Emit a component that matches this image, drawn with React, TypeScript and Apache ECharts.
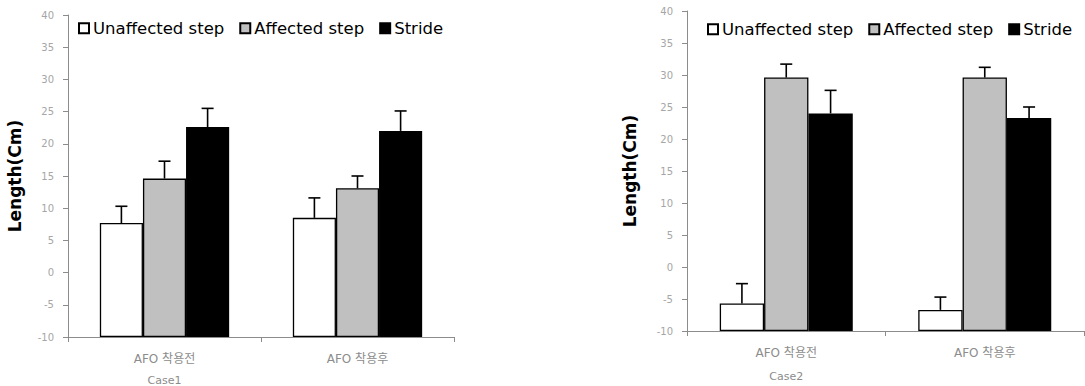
import React, { useEffect, useRef } from "react";
import * as echarts from "echarts";

const categories = ["AFO 착용전", "AFO 착용후"];
const seriesNames = ["Unaffected step", "Affected step", "Stride"];
const seriesColors = ["#ffffff", "#c0c0c0", "#000000"];

// Case1
const case1Unaffected = [7.7, 8.5];
const case1Affected = [14.6, 13.1];
const case1Stride = [22.6, 22.0];
const case1UnaffectedErr = [2.6, 3.1];
const case1AffectedErr = [2.7, 1.9];
const case1StrideErr = [2.9, 3.1];

// Case2
const case2Unaffected = [-5.7, -6.7];
const case2Affected = [29.6, 29.6];
const case2Stride = [24.0, 23.3];
const case2UnaffectedErr = [3.1, 2.0];
const case2AffectedErr = [2.1, 1.6];
const case2StrideErr = [3.6, 1.7];

const yTicks = { min: -10, max: 40, interval: 5 };
const caseNames = ["Case1", "Case2"];

const CATEGORY_GAP = 0.33;
const FONT = "'DejaVu Sans', 'Noto Sans CJK KR', sans-serif";

export default function App() {
  const ref = useRef<HTMLDivElement>(null);

  useEffect(() => {
    document.body.style.margin = "0";
    if (!ref.current) return;
    const chart = echarts.init(ref.current, null, { renderer: "svg" });

    const grids = [
      { left: 68, right: 631, top: 15, bottom: 49, containLabel: false, outerBoundsMode: "none" },
      { left: 687, right: 1, top: 11, bottom: 55, containLabel: false, outerBoundsMode: "none" },
    ];

    const values = [
      [case1Unaffected, case1Affected, case1Stride],
      [case2Unaffected, case2Affected, case2Stride],
    ];
    const errs = [
      [case1UnaffectedErr, case1AffectedErr, case1StrideErr],
      [case2UnaffectedErr, case2AffectedErr, case2StrideErr],
    ];

    const xAxis = grids.map((_, gi) => ({
      type: "category",
      gridIndex: gi,
      data: categories,
      axisLine: { onZero: false, lineStyle: { color: "#8c8c8c", width: 1 } },
      axisTick: { show: true, length: 5, lineStyle: { color: "#8c8c8c" } },
      axisLabel: {
        color: "#8c8c8c",
        fontSize: 12,
        fontFamily: FONT,
        margin: 16,
      },
    }));

    const yAxis = grids.map((_, gi) => ({
      type: "value",
      gridIndex: gi,
      min: yTicks.min,
      max: yTicks.max,
      interval: yTicks.interval,
      startValue: yTicks.min,
      axisLine: { show: true, lineStyle: { color: "#8c8c8c", width: 1 } },
      axisTick: { show: true, length: 5, lineStyle: { color: "#8c8c8c" } },
      splitLine: { show: false },
      axisLabel: { color: "#a6a6a6", fontSize: 10, fontFamily: FONT, margin: 14 },
      name: "Length(Cm)",
      nameLocation: "middle",
      nameRotate: 90,
      nameGap: gi === 0 ? 45 : 49,
      nameTextStyle: {
        color: "#000",
        fontSize: 17,
        fontWeight: "bold",
        fontFamily: FONT,
      },
    }));

    const series: any[] = [];
    for (let gi = 0; gi < 2; gi++) {
      for (let si = 0; si < 3; si++) {
        series.push({
          type: "bar",
          name: seriesNames[si],
          xAxisIndex: gi,
          yAxisIndex: gi,
          data: values[gi][si],
          barGap: "0%",
          barCategoryGap: "33%",
          itemStyle: { color: seriesColors[si], borderColor: "#000", borderWidth: 1.3 },
        });
      }
      const errData: number[][] = [];
      for (let si = 0; si < 3; si++) {
        for (let ci = 0; ci < categories.length; ci++) {
          errData.push([ci, values[gi][si][ci], values[gi][si][ci] + errs[gi][si][ci], si]);
        }
      }
      series.push({
        type: "custom",
        xAxisIndex: gi,
        yAxisIndex: gi,
        data: errData,
        z: 10,
        renderItem: (params: any, api: any) => {
          const ci = api.value(0);
          const v = api.value(1);
          const top = api.value(2);
          const si = api.value(3);
          const catW = api.size([1, 0])[0];
          const bw = (catW * (1 - CATEGORY_GAP)) / 3;
          const p0 = api.coord([ci, v]);
          const p1 = api.coord([ci, top]);
          const x = p0[0] + (si - 1) * bw;
          const cap = 6;
          const style = { stroke: "#000", lineWidth: 1.6 };
          return {
            type: "group",
            children: [
              { type: "line", shape: { x1: x, y1: p0[1], x2: x, y2: p1[1] }, style },
              { type: "line", shape: { x1: x - cap, y1: p1[1], x2: x + cap, y2: p1[1] }, style },
            ],
          };
        },
      });
    }

    const legendCommon = {
      data: seriesNames,
      icon: "rect",
      itemWidth: 10,
      itemHeight: 10,
      itemGap: 15,
      textStyle: { color: "#000", fontSize: 16.5, fontFamily: FONT, padding: [0, 0, 0, -1] },
      selectedMode: false,
    };

    chart.setOption({
      animation: false,
      backgroundColor: "#fff",
      grid: grids,
      xAxis,
      yAxis,
      legend: [
        { ...legendCommon, left: 73, top: 15 },
        { ...legendCommon, left: 702, top: 16 },
      ],
      series,
    });

    // Case labels under the first category of each chart
    const caseY = [380, 376];
    const graphics = caseNames.map((name, gi) => {
      const px = chart.convertToPixel({ xAxisIndex: gi }, categories[0]) as number;
      return {
        type: "text",
        x: px,
        y: caseY[gi],
        style: {
          text: name,
          fill: "#8c8c8c",
          fontSize: 11,
          fontFamily: FONT,
          align: "center",
          verticalAlign: "middle",
        },
      };
    });
    chart.setOption({ graphic: graphics });

    return () => chart.dispose();
  }, []);

  return <div ref={ref} style={{ width: 1085, height: 386 }} />;
}
